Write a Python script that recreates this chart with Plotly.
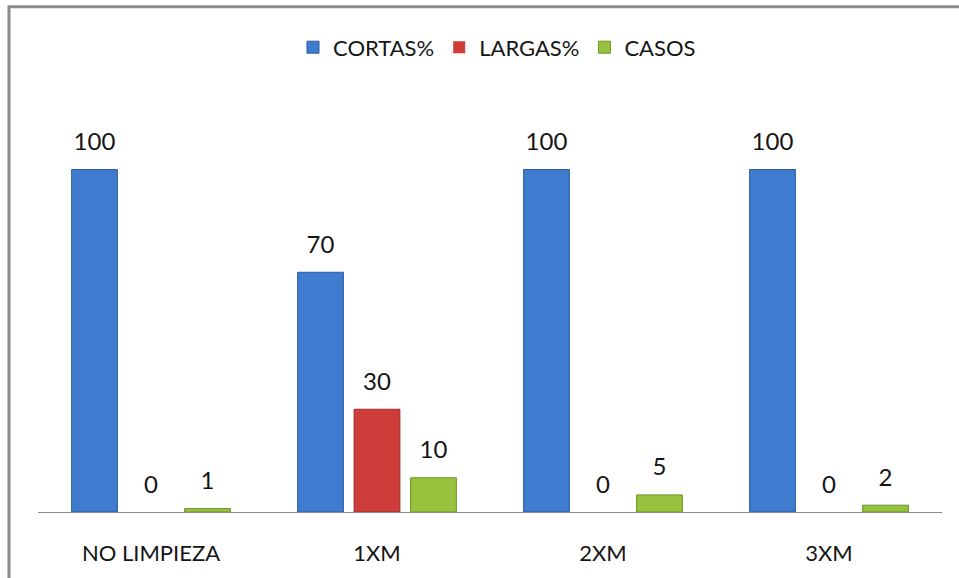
import plotly.graph_objects as go

# Chart data
categories = ["NO LIMPIEZA", "1XM", "2XM", "3XM"]
cortas = [100, 70, 100, 100]
largas = [0, 30, 0, 0]
casos = [1, 10, 5, 2]

series_names = ["CORTAS%", "LARGAS%", "CASOS"]
series_values = [cortas, largas, casos]
fill_colors = ["#3f7ccf", "#cf3d3a", "#97c23d"]
edge_colors = ["#2b5c9e", "#9b2b28", "#6e9429"]

FONT = "Lato"
W, H = 959, 578
M_L, M_R, M_T, M_B = 38, 17, 101, 63
GAP = 0.25

fig = go.Figure()

# Clustered columns (no outline on empty columns)
for name, vals, fill, edge in zip(series_names, series_values, fill_colors, edge_colors):
    fig.add_bar(
        name=name, x=categories, y=vals,
        marker=dict(color=fill,
                    line=dict(color=edge, width=[1 if v > 0 else 0 for v in vals])),
        hoverinfo="skip",
    )

# Value labels, grouped the same way as the columns
for name, vals in zip(series_names, series_values):
    fig.add_scatter(
        x=categories, y=vals, mode="markers+text",
        text=[str(v) for v in vals], textposition="top center",
        marker=dict(size=20, opacity=0),
        textfont=dict(family=FONT, size=24, color="#151515"),
        showlegend=False, hoverinfo="skip", cliponaxis=False,
    )

plot_w = W - M_L - M_R
plot_h = H - M_T - M_B

def px_x(px):
    return (px - M_L) / plot_w

def px_y(py):
    return (H - M_B - py) / plot_h

fig.update_layout(
    width=W, height=H,
    margin=dict(l=M_L, r=M_R, t=M_T, b=M_B),
    paper_bgcolor="white", plot_bgcolor="white",
    barmode="group", bargap=GAP, bargroupgap=0.19,
    scattermode="group", scattergap=GAP,
    font=dict(family=FONT, color="#151515"),
    showlegend=True,
    legend=dict(
        orientation="h", x=px_x(497), xanchor="center",
        y=px_y(47), yanchor="middle",
        font=dict(family=FONT, size=22, color="#151515"),
        itemclick=False, itemdoubleclick=False,
        bgcolor="rgba(0,0,0,0)",
    ),
    xaxis=dict(
        showline=True, linecolor="#8c8c8c", linewidth=1,
        showgrid=False, zeroline=False, ticks="",
        tickfont=dict(family=FONT, size=22, color="#151515"),
        ticklabelstandoff=22,
    ),
    yaxis=dict(visible=False, range=[0, 120], showgrid=False, zeroline=False),
    shapes=[
        dict(
            type="rect", xref="paper", yref="paper",
            x0=px_x(9), x1=px_x(1100), y0=px_y(700), y1=px_y(6),
            line=dict(color="#8c8c8c", width=3), layer="below",
        )
    ],
)

fig.write_html("out.html")
